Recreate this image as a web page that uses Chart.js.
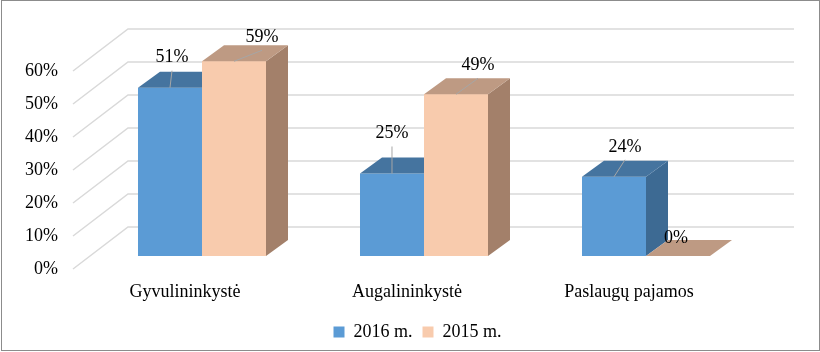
<!DOCTYPE html>
<html>
<head>
<meta charset="utf-8">
<script src="https://cdn.jsdelivr.net/npm/chart.js@4.4.1/dist/chart.umd.min.js"></script>
<style>
    body { margin: 0; background: #fff; }
    #wrap { position: relative; width: 820px; height: 352px; }
    #frame { position: absolute; left: 1px; top: 0; width: 819px; height: 351px; box-sizing: border-box; border: 1px solid #8c8c8c; pointer-events: none; }
</style>
</head>
<body>
<div id="wrap">
    <canvas id="myChart" width="820" height="352"></canvas>
    <div id="frame"></div>
</div>
<script>
const categorijos = ['Gyvulininkystė', 'Augalininkystė', 'Paslaugų pajamos'];
const metai2016 = [51, 25, 24];
const metai2015 = [59, 49, 0];
const yTicks = [0, 10, 20, 30, 40, 50, 60];

// label nudges (px) from the front-top centre of each bar, like the manual placement in the original
const labelNudge2016 = [[2, -30], [0, -40], [11, -30]];
const labelNudge2015 = [[28, -24], [22, -29], [-2, -18]];

const FONT = { family: '"Liberation Serif", "Times New Roman", serif', size: 18 };
const DEPTH = { dx: 22, dy: -16 };      // bar depth
const BACK = { dx: 37, dy: -29 };       // back wall offset
const FRONT = { dx: -18, dy: 13 };      // front edge offset

const walls = {
    id: 'walls',
    beforeDatasetsDraw(chart) {
        const { ctx, chartArea, scales: { y } } = chart;
        ctx.save();
        ctx.strokeStyle = '#d9d9d9';
        ctx.lineWidth = 1.5;
        y.ticks.forEach(t => {
            const py = y.getPixelForValue(t.value);
            ctx.beginPath();
            ctx.moveTo(chartArea.left + FRONT.dx, py + FRONT.dy);
            ctx.lineTo(chartArea.left + BACK.dx, py + BACK.dy);
            ctx.lineTo(chartArea.right + BACK.dx, py + BACK.dy);
            ctx.stroke();
        });
        ctx.restore();
    }
};

function poly(ctx, pts, color) {
    ctx.beginPath();
    ctx.moveTo(pts[0][0], pts[0][1]);
    for (let i = 1; i < pts.length; i++) ctx.lineTo(pts[i][0], pts[i][1]);
    ctx.closePath();
    ctx.fillStyle = color;
    ctx.fill();
}

// side + top faces, left series first so the right bar's front covers the left bar's side
const faces = {
    id: 'faces',
    afterDatasetsDraw(chart) {
        const ctx = chart.ctx;
        ctx.save();
        chart.data.datasets.forEach((ds, i) => {
            chart.getDatasetMeta(i).data.forEach(bar => {
                if (i > 0) bar.draw(ctx);
                const { x, y, base, width } = bar.getProps(['x', 'y', 'base', 'width'], true);
                const l = x - width / 2, r = x + width / 2;
                if (base - y > 0.5) {
                    poly(ctx, [[r, y], [r + DEPTH.dx, y + DEPTH.dy], [r + DEPTH.dx, base + DEPTH.dy], [r, base]], ds.sideColor);
                }
                poly(ctx, [[l, y], [r, y], [r + DEPTH.dx, y + DEPTH.dy], [l + DEPTH.dx, y + DEPTH.dy]], ds.topColor);
            });
        });
        ctx.restore();
    }
};

const dataLabels = {
    id: 'dataLabels',
    afterDatasetsDraw(chart) {
        const ctx = chart.ctx;
        ctx.save();
        ctx.font = FONT.size + 'px ' + FONT.family;
        ctx.textAlign = 'center';
        ctx.textBaseline = 'middle';
        chart.data.datasets.forEach((ds, i) => {
            const meta = chart.getDatasetMeta(i);
            meta.data.forEach((bar, j) => {
                const { x, y } = bar.getProps(['x', 'y'], true);
                const lx = x + ds.nudge[j][0];
                const ly = y + ds.nudge[j][1];
                if (ds.data[j] > 0) {
                    ctx.strokeStyle = '#a6a6a6';
                    ctx.lineWidth = 1;
                    ctx.beginPath();
                    ctx.moveTo(x, y);
                    ctx.lineTo(lx, ly + 13);
                    ctx.stroke();
                }
                ctx.fillStyle = '#000';
                ctx.fillText(ds.data[j] + '%', lx, ly);
            });
        });
        ctx.restore();
    }
};

let ctx = document.getElementById('myChart').getContext('2d');
let myChart = new Chart(ctx, {
    type: 'bar',
    data: {
        labels: categorijos,
        datasets: [{
            label: '2016 m.',
            data: metai2016,
            backgroundColor: '#5b9bd5',
            topColor: '#45749f',
            sideColor: '#3d6a93',
            nudge: labelNudge2016,
            borderWidth: 0
        }, {
            label: '2015 m.',
            data: metai2015,
            backgroundColor: '#f8cbad',
            topColor: '#be9a83',
            sideColor: '#a3806a',
            nudge: labelNudge2015,
            borderWidth: 0
        }]
    },
    options: {
        responsive: false,
        animation: false,
        categoryPercentage: 0.5766,
        barPercentage: 1,
        layout: { padding: { top: 58, right: 0, left: 15, bottom: 1 } },
        plugins: {
            legend: {
                position: 'bottom',
                labels: {
                    boxWidth: 11,
                    boxHeight: 11,
                    padding: 10,
                    color: '#000',
                    font: FONT
                }
            },
            tooltip: { enabled: false }
        },
        scales: {
            x: {
                grid: { display: false, drawTicks: false },
                border: { display: false },
                ticks: { color: '#000', font: FONT, labelOffset: -17, padding: 25 },
                afterFit: s => { s.height = 57; }
            },
            y: {
                min: 0,
                max: 60,
                afterBuildTicks: s => { s.ticks = yTicks.map(v => ({ value: v })); },
                grid: { display: false, drawTicks: false },
                border: { display: false },
                ticks: {
                    color: '#000',
                    font: FONT,
                    padding: 33,
                    labelOffset: 13,
                    callback: v => v + '%'
                },
                afterFit: s => { s.width = 76; }
            },
            // empty right-hand axis that only reserves room for the back wall
            y2: {
                position: 'right',
                grid: { display: false, drawTicks: false },
                border: { display: false },
                ticks: { display: false },
                afterFit: s => { s.width = 63; }
            }
        }
    },
    plugins: [walls, faces, dataLabels]
});
</script>
</body>
</html>
